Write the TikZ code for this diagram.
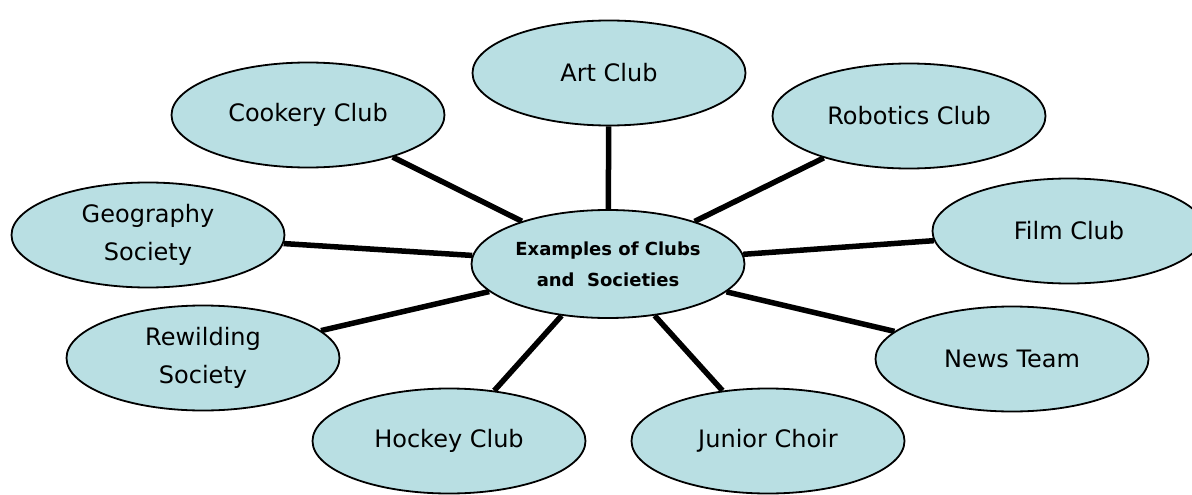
\documentclass[tikz,border=0pt]{standalone}
\usepackage{fontspec}
\setmainfont{DejaVu Sans}
\usetikzlibrary{shapes.geometric,backgrounds}
\definecolor{bubble}{HTML}{B9DFE3}
\tikzset{
  bubble/.style={ellipse, draw=black, line width=1.8pt, fill=bubble,
    minimum width=273pt, minimum height=105pt, inner sep=0pt,
    align=center, font=\fontsize{24}{38}\selectfont},
  hub/.style={bubble, minimum height=108pt, font=\bfseries\fontsize{18}{31}\selectfont},
  spoke/.style={line width=5.5pt, black}
}
\begin{document}
\begin{tikzpicture}[x=1pt,y=-1pt]
\useasboundingbox (0,0) rectangle (1192,495);
\node[hub] (c) at (608,264) {Examples of Clubs\\and~ Societies};
\node[bubble] (art) at (609,73) {Art Club};
\node[bubble] (cook) at (308,115) {Cookery Club};
\node[bubble] (robo) at (909,116) {Robotics Club};
\node[bubble] (geo) at (148,235) {Geography\\Society};
\node[bubble] (film) at (1069,231) {Film Club};
\node[bubble] (rew) at (203,358) {Rewilding\\Society};
\node[bubble] (news) at (1012,359) {News Team};
\node[bubble] (hock) at (449,441) {Hockey Club};
\node[bubble] (choir) at (768,441) {Junior Choir};
\begin{pgfonlayer}{background}
\foreach \n in {art,cook,robo,geo,film,rew,news,hock,choir}
  \draw[spoke] (c) -- (\n);
\end{pgfonlayer}
\end{tikzpicture}
\end{document}
